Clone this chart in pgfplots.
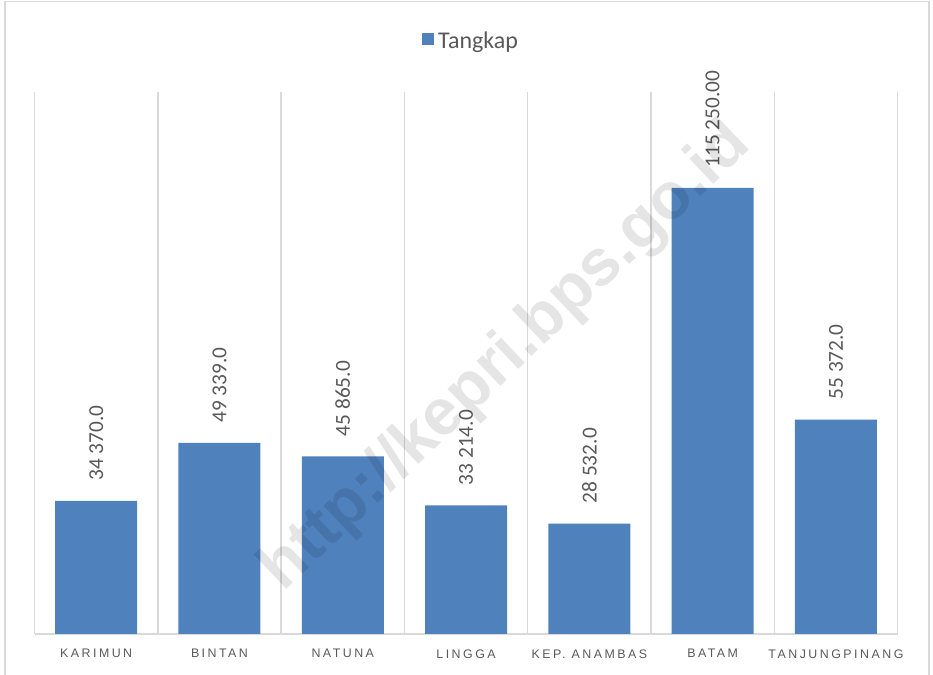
\documentclass[border=0pt]{standalone}
\usepackage{fontspec}
\setmainfont{Carlito}
\newfontfamily\arialfont{Liberation Sans}
\usepackage{pgfplots}
\pgfplotsset{compat=1.18}
\definecolor{barblue}{HTML}{4F81BD}
\definecolor{txtgray}{HTML}{595959}
\definecolor{gridgray}{HTML}{D9D9D9}
\begin{document}
\begin{tikzpicture}[x=1pt,y=1pt]
\useasboundingbox (0,0) rectangle (699.75,506.25);
\draw[gridgray, line width=0.8pt] (3.75,0) -- (3.75,505) -- (696.75,505) -- (696.75,0);
\begin{axis}[
  at={(25.9pt,30.75pt)}, anchor=south west,
  scale only axis, width=647.3pt, height=406.5pt,
  xmin=-0.5, xmax=6.5, ymin=0, ymax=140000,
  axis x line*=bottom, axis y line=none,
  x axis line style={gridgray, line width=1.1pt, -},
  ytick=\empty,
  xtick={0,1,2,3,4,5,6},
  xticklabels={KARIMUN,BINTAN,NATUNA,LINGGA,KEP. ANAMBAS,BATAM,TANJUNGPINANG},
  xticklabel style={font=\arialfont\fontsize{9.3}{11}\selectfont\addfontfeatures{LetterSpace=20}, text=txtgray, yshift=-8pt},
  major tick length=0pt,
  extra x ticks={-0.5,0.5,1.5,2.5,3.5,4.5,5.5,6.5}, extra x tick labels={},
  extra x tick style={grid=major, major grid style={gridgray, line width=1.1pt}},
  legend style={at={(rel axis cs:0.507,1.094)}, anchor=center, draw=none, fill=none,
    font=\fontsize{18}{21}\selectfont, text=txtgray, column sep=0pt,
    nodes={inner xsep=3pt}},
  legend image code/.code={\fill[barblue] (0pt,-3pt) rectangle (9pt,6pt);},
]
\addplot[ybar, fill=barblue, draw=none, bar width=0.665,
  nodes near coords, point meta=explicit symbolic,
  every node near coord/.append style={rotate=90, anchor=west, inner xsep=15pt,
    font=\fontsize{16}{19}\selectfont, text=txtgray}]
  coordinates {
  (0,34370) [34 370.0]
  (1,49339) [49 339.0]
  (2,45865) [45 865.0]
  (3,33214) [33 214.0]
  (4,28532) [28 532.0]
  (5,115250) [115 250.00]
  (6,55372) [55 372.0]
  };
\addlegendentry{Tangkap}
\end{axis}
\node[rotate=43.5, font=\arialfont\bfseries\fontsize{49}{58}\selectfont, text=black, text opacity=0.1] at (380,238) {http://kepri.bps.go.id};
\end{tikzpicture}
\end{document}
